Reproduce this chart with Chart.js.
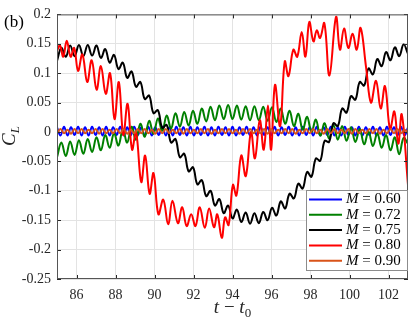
<!DOCTYPE html>
<html>
<head>
<meta charset="utf-8">
<script src="https://cdn.jsdelivr.net/npm/chart.js@4.4.0/dist/chart.umd.min.js"></script>
<style>
    html, body { margin: 0; padding: 0; background: #fff; }
    #wrap { width: 411px; height: 319px; }
</style>
</head>
<body>
<div id="wrap"><canvas id="cl-chart" width="411" height="319"></canvas></div>
<script>
// time samples (t - t0), one per half wiggle
const tA = [85, 85.225, 85.45, 85.675, 85.9, 86.125, 86.35, 86.575, 86.8, 87.025,
    87.25, 87.475, 87.7, 87.925, 88.15, 88.375, 88.6, 88.825, 89.05, 89.275,
    89.5, 89.725, 89.95, 90.175, 90.4, 90.625, 90.85, 91.075, 91.3, 91.525,
    91.75, 91.975, 92.2, 92.425, 92.65, 92.875, 93.1, 93.325, 93.55, 93.775,
    94, 94.225, 94.45, 94.675, 94.9, 95.125, 95.35, 95.575, 95.8, 96.025,
    96.25, 96.475, 96.7, 96.925, 97.15, 97.375, 97.6, 97.825, 98.05, 98.275,
    98.5, 98.725, 98.95, 99.175, 99.4, 99.625, 99.85, 100.075, 100.3, 100.525,
    100.75, 100.975, 101.2, 101.425, 101.65, 101.875, 102.1, 102.325, 102.55, 102.775,
    103];

const tB = [85, 85.18, 85.36, 85.54, 85.72, 85.9, 86.08, 86.26, 86.44, 86.62,
    86.8, 86.98, 87.16, 87.34, 87.52, 87.7, 87.88, 88.06, 88.24, 88.42,
    88.6, 88.78, 88.96, 89.14, 89.32, 89.5, 89.68, 89.86, 90.04, 90.22,
    90.4, 90.58, 90.76, 90.94, 91.12, 91.3, 91.48, 91.66, 91.84, 92.02,
    92.2, 92.38, 92.56, 92.74, 92.92, 93.1, 93.28, 93.46, 93.64, 93.82,
    94, 94.18, 94.36, 94.54, 94.72, 94.9, 95.08, 95.26, 95.44, 95.62,
    95.8, 95.98, 96.16, 96.34, 96.52, 96.7, 96.88, 97.06, 97.24, 97.42,
    97.6, 97.78, 97.96, 98.14, 98.32, 98.5, 98.68, 98.86, 99.04, 99.22,
    99.4, 99.58, 99.76, 99.94, 100.12, 100.3, 100.48, 100.66, 100.84, 101.02,
    101.2, 101.38, 101.56, 101.74, 101.92, 102.1, 102.28, 102.46, 102.64, 102.82,
    103];

const redT = [85.00, 85.15, 85.32, 85.50, 85.70, 85.88, 86.08, 86.30, 86.55, 86.78,
    87.03, 87.25, 87.50, 87.72, 87.95, 88.17, 88.40, 88.62, 88.85, 89.05,
    89.32, 89.52, 89.75, 89.95, 90.20, 90.45, 90.70, 90.92, 91.20, 91.42,
    91.65, 91.88, 92.10, 92.32, 92.58, 92.80, 93.05, 93.22, 93.45, 93.62,
    93.80, 94.02, 94.20, 94.45, 94.68, 94.95, 95.15, 95.40, 95.60, 95.82,
    95.98, 96.18, 96.44, 96.68, 96.87, 97.12, 97.32, 97.55, 97.74, 97.94,
    98.15, 98.32, 98.49, 98.71, 98.97, 99.31, 99.51, 99.72, 99.94, 100.16,
    100.37, 100.57, 100.85, 101.10, 101.36, 101.60, 101.82, 102.08, 102.30, 102.50,
    102.68, 103.00];

// C_L values
const cl060 = [0.008, -0.006, 0.009, -0.006, 0.008, -0.005, 0.009, -0.006, 0.008, -0.006,
    0.009, -0.005, 0.008, -0.006, 0.009, -0.006, 0.008, -0.005, 0.009, -0.006,
    0.008, -0.006, 0.009, -0.005, 0.008, -0.006, 0.009, -0.006, 0.008, -0.005,
    0.009, -0.006, 0.008, -0.006, 0.009, -0.005, 0.008, -0.006, 0.009, -0.006,
    0.008, -0.005, 0.009, -0.006, 0.008, -0.006, 0.009, -0.005, 0.008, -0.006,
    0.009, -0.006, 0.008, -0.005, 0.009, -0.006, 0.008, -0.006, 0.009, -0.005,
    0.008, -0.006, 0.009, -0.006, 0.008, -0.005, 0.009, -0.006, 0.008, -0.006,
    0.009, -0.005, 0.008, -0.006, 0.009, -0.006, 0.008, -0.005, 0.009, -0.006,
    0.008, -0.006, 0.009, -0.005, 0.008, -0.006, 0.009, -0.006, 0.008, -0.005,
    0.009, -0.006, 0.008, -0.006, 0.009, -0.005, 0.008, -0.006, 0.009, -0.006,
    0.008];

const cl072 = [-0.043, -0.018, -0.041, -0.016, -0.039, -0.014, -0.037, -0.012, -0.034, -0.009,
    -0.031, -0.005, -0.027, -0.002, -0.023, 0.004, -0.018, 0.009, -0.013, 0.014,
    -0.008, 0.019, -0.003, 0.023, 0.002, 0.028, 0.006, 0.032, 0.009, 0.034,
    0.011, 0.036, 0.014, 0.040, 0.018, 0.043, 0.020, 0.045, 0.022, 0.046,
    0.022, 0.045, 0.021, 0.044, 0.020, 0.044, 0.020, 0.043, 0.019, 0.042,
    0.017, 0.040, 0.014, 0.036, 0.010, 0.031, 0.004, 0.026, 0.000, 0.021,
    -0.006, 0.015, -0.011, 0.012, -0.013, 0.010, -0.015, 0.008, -0.017, 0.005,
    -0.021, 0.001, -0.024, -0.002, -0.027, -0.005, -0.031, -0.009, -0.038, -0.010,
    -0.020];

const cl075 = [0.121, 0.143, 0.128, 0.147, 0.129, 0.148, 0.129, 0.148, 0.130, 0.147,
    0.126, 0.141, 0.118, 0.131, 0.107, 0.118, 0.092, 0.103, 0.077, 0.085,
    0.056, 0.062, 0.032, 0.037, 0.007, 0.012, -0.018, -0.012, -0.043, -0.037,
    -0.067, -0.060, -0.089, -0.082, -0.109, -0.100, -0.125, -0.114, -0.138, -0.125,
    -0.147, -0.132, -0.153, -0.137, -0.156, -0.138, -0.155, -0.136, -0.150, -0.129,
    -0.142, -0.118, -0.130, -0.105, -0.113, -0.088, -0.096, -0.068, -0.076, -0.045,
    -0.049, -0.015, -0.017, 0.015, 0.010, 0.040, 0.033, 0.061, 0.055, 0.085,
    0.079, 0.108, 0.098, 0.124, 0.112, 0.136, 0.122, 0.144, 0.129, 0.149,
    0.133];

const cl080 = [0.138, 0.147, 0.128, 0.155, 0.128, 0.143, 0.104, 0.132, 0.085, 0.122,
    0.072, 0.112, 0.065, 0.100, 0.022, 0.085, -0.005, 0.048, -0.030, 0.000,
    -0.085, -0.040, -0.105, -0.070, -0.140, -0.115, -0.157, -0.117, -0.155, -0.128,
    -0.160, -0.140, -0.160, -0.128, -0.163, -0.130, -0.162, -0.140, -0.180, -0.145,
    -0.158, -0.090, -0.108, -0.040, -0.075, 0.000, -0.045, 0.020, -0.030, 0.045,
    -0.030, 0.080, 0.010, 0.120, 0.095, 0.140, 0.128, 0.170, 0.128, 0.187,
    0.154, 0.173, 0.160, 0.185, 0.096, 0.196, 0.140, 0.176, 0.143, 0.167,
    0.140, 0.177, 0.110, 0.050, 0.087, 0.040, 0.078, 0.005, 0.035, -0.020,
    0.030, -0.090];

const cl090 = [-0.002, 0.005, -0.002, 0.004, -0.003, 0.005, -0.002, 0.005, -0.002, 0.004,
    -0.002, 0.005, -0.003, 0.005, -0.002, 0.004, -0.002, 0.005, -0.002, 0.005,
    -0.003, 0.004, -0.002, 0.005, -0.002, 0.005, -0.002, 0.004, -0.003, 0.005,
    -0.002, 0.005, -0.002, 0.004, -0.002, 0.005, -0.003, 0.005, -0.002, 0.004,
    -0.002, 0.005, -0.002, 0.005, -0.003, 0.004, -0.002, 0.005, -0.002, 0.005,
    -0.002, 0.004, -0.003, 0.005, -0.002, 0.005, -0.002, 0.004, -0.002, 0.005,
    -0.003, 0.005, -0.002, 0.004, -0.002, 0.005, -0.002, 0.005, -0.003, 0.004,
    -0.002, 0.005, -0.002, 0.005, -0.002, 0.004, -0.003, 0.005, -0.002, 0.005,
    -0.002, 0.004, -0.002, 0.005, -0.003, 0.005, -0.002, 0.004, -0.002, 0.005,
    -0.002, 0.005, -0.003, 0.004, -0.002, 0.005, -0.002, 0.005, -0.002, 0.004,
    -0.002];

const machLabels = ['0.60', '0.72', '0.75', '0.80', '0.90'];
const xTicks = [86, 88, 90, 92, 94, 96, 98, 100, 102];
const yTicks = [-0.25, -0.2, -0.15, -0.1, -0.05, 0, 0.05, 0.1, 0.15, 0.2];

const COLORS = ['#0000ff', '#008000', '#000000', '#ff0000', '#d95319'];
const SERIF = "'Liberation Serif', 'DejaVu Serif', serif";
const INK = '#262626';

const toPoints = (ts, ys) => ts.map((t, i) => ({ x: t, y: ys[i] }));
const seriesT = [tB, tA, tA, redT, tB];
const seriesY = [cl060, cl072, cl075, cl080, cl090];

const datasets = seriesY.map((ys, i) => ({
    label: 'M = ' + machLabels[i],
    data: toPoints(seriesT[i], ys),
    borderColor: COLORS[i],
    borderWidth: 2,
    pointRadius: 0,
    tension: 0.4,
    fill: false,
    order: 5 - i
}));

// box, inward ticks, legend and axis labels
const decorPlugin = {
    id: 'decor',
    afterDraw(chart) {
        const { ctx, chartArea: a, scales } = chart;
        ctx.save();

        ctx.strokeStyle = INK;
        ctx.lineWidth = 1;
        ctx.beginPath();
        xTicks.forEach(v => {
            const px = Math.round(scales.x.getPixelForValue(v)) + 0.5;
            ctx.moveTo(px, a.bottom); ctx.lineTo(px, a.bottom - 4);
            ctx.moveTo(px, a.top); ctx.lineTo(px, a.top + 4);
        });
        yTicks.forEach(v => {
            const py = Math.round(scales.y.getPixelForValue(v)) + 0.5;
            ctx.moveTo(a.left, py); ctx.lineTo(a.left + 4, py);
            ctx.moveTo(a.right, py); ctx.lineTo(a.right - 4, py);
        });
        ctx.stroke();
        ctx.strokeStyle = '#555';
        ctx.strokeRect(a.left + 0.5, a.top + 0.5, a.right - a.left - 1, a.bottom - a.top - 1);

        // legend
        const bw = 102, bh = 81;
        const bx = a.right - bw, by = a.bottom - 8 - bh;
        ctx.fillStyle = '#fff';
        ctx.fillRect(bx, by, bw, bh);
        ctx.strokeStyle = '#8c8c8c';
        ctx.strokeRect(bx + 0.5, by + 0.5, bw - 1, bh - 1);
        ctx.textBaseline = 'middle';
        machLabels.forEach((m, i) => {
            const y = by + 9.5 + i * 15.3;
            ctx.strokeStyle = COLORS[i];
            ctx.lineWidth = 2;
            ctx.beginPath();
            ctx.moveTo(bx + 3, y); ctx.lineTo(bx + 36, y);
            ctx.stroke();
            ctx.fillStyle = '#000';
            ctx.font = 'italic 15px ' + SERIF;
            ctx.fillText('M', bx + 40, y);
            const w = ctx.measureText('M').width;
            ctx.font = '15px ' + SERIF;
            ctx.fillText(' = ' + m, bx + 40 + w, y);
        });

        // (b)
        ctx.fillStyle = '#000';
        ctx.font = '17px ' + SERIF;
        ctx.textBaseline = 'alphabetic';
        ctx.fillText('(b)', 4, 27);

        // x title: t - t0
        ctx.fillStyle = INK;
        const parts = [['t', 'italic 19px '], [' \u2212 ', '19px '], ['t', 'italic 19px ']];
        let total = 0;
        parts.forEach(p => { ctx.font = p[1] + SERIF; total += ctx.measureText(p[0]).width; });
        ctx.font = '13px ' + SERIF;
        total += ctx.measureText('0').width;
        let x = (a.left + a.right) / 2 - total / 2;
        const base = 313;
        parts.forEach(p => {
            ctx.font = p[1] + SERIF;
            ctx.fillText(p[0], x, base);
            x += ctx.measureText(p[0]).width;
        });
        ctx.font = '13px ' + SERIF;
        ctx.fillText('0', x, base + 4);

        // y title: C_L
        ctx.translate(15, 136);
        ctx.rotate(-Math.PI / 2);
        ctx.font = 'italic 19px ' + SERIF;
        const cw = ctx.measureText('C').width;
        ctx.font = 'italic 13px ' + SERIF;
        const lw = ctx.measureText('L').width;
        const sx = -(cw + lw) / 2;
        ctx.font = 'italic 19px ' + SERIF;
        ctx.fillText('C', sx, 0);
        ctx.font = 'italic 13px ' + SERIF;
        ctx.fillText('L', sx + cw, 4);

        ctx.restore();
    }
};

const ctx = document.getElementById('cl-chart').getContext('2d');
new Chart(ctx, {
    type: 'line',
    data: { datasets },
    options: {
        responsive: false,
        animation: false,
        parsing: false,
        layout: { padding: { left: 0, right: 3, top: 7, bottom: 0 } },
        plugins: {
            legend: { display: false },
            tooltip: { enabled: false }
        },
        scales: {
            x: {
                type: 'linear',
                min: 85, max: 103,
                afterBuildTicks: s => { s.ticks = xTicks.map(v => ({ value: v })); },
                afterFit: s => { s.height = 40; },
                ticks: { color: INK, padding: 8, font: { family: SERIF, size: 14 } },
                grid: { color: '#e3e3e3', drawTicks: false },
                border: { display: false }
            },
            y: {
                type: 'linear',
                min: -0.25, max: 0.2,
                afterBuildTicks: s => { s.ticks = yTicks.map(v => ({ value: v })); },
                afterFit: s => { s.width = 57; },
                ticks: {
                    color: INK, padding: 6, font: { family: SERIF, size: 14 },
                    callback: v => String(Number(v.toFixed(2)))
                },
                grid: { color: '#e3e3e3', drawTicks: false },
                border: { display: false }
            }
        }
    },
    plugins: [decorPlugin]
});
</script>
</body>
</html>
